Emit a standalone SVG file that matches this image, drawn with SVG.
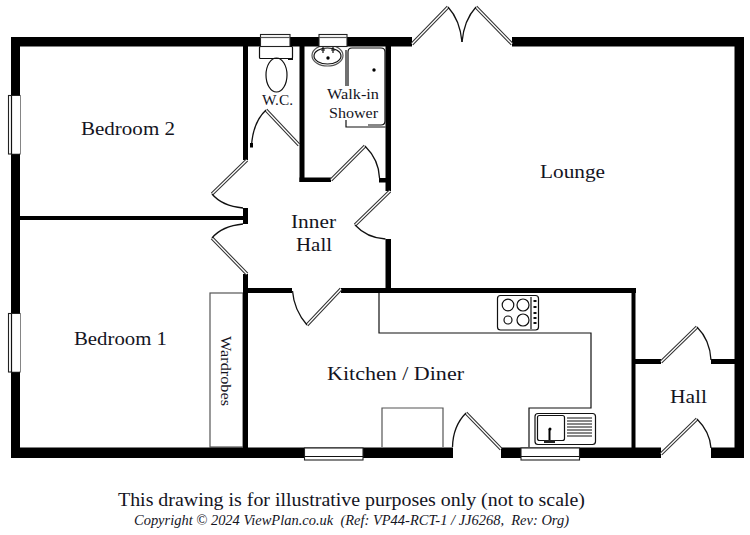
<svg xmlns="http://www.w3.org/2000/svg" width="750" height="535" viewBox="0 0 750 535">
<style>
.wall{fill:#000}
.thin{fill:none;stroke:#111;stroke-width:1.2}
.gray{fill:none;stroke:#555;stroke-width:1.2}
.win{fill:#fff;stroke:#222;stroke-width:1.1}
.leafo{stroke:#333;stroke-width:3.4;fill:none;stroke-linecap:butt}
.leafi{stroke:#fff;stroke-width:1.3;fill:none}
.swing{fill:none;stroke:#111;stroke-width:1.3}
text{font-family:"Liberation Serif","Times New Roman",serif;fill:#14141e}
.room{font-size:19px}
.small{font-size:15px}
</style>
<defs>
<g id="hobdot"><rect x="-1.5" y="-1" width="3" height="2" fill="#111"/></g>
</defs>
<rect width="750" height="535" fill="#fff"/>
<g id="fittings">
<rect class="gray" x="210" y="293" width="33" height="154"/>
<path class="thin" d="M379 293V333H591V408H529V447"/>
<path class="gray" d="M382 447V408H443V447"/>
<g id="hob">
<rect class="thin" x="497.500" y="295.500" width="41" height="34.500" rx="3"/>
<circle class="thin" cx="508" cy="305" r="5.800"/>
<circle class="thin" cx="523" cy="305" r="6"/>
<circle class="thin" cx="508" cy="320" r="4"/>
<circle class="thin" cx="523" cy="320" r="6"/>
<path class="thin" d="M531 297V329"/>
<use href="#hobdot" x="535" y="301"/><use href="#hobdot" x="535" y="307"/><use href="#hobdot" x="535" y="313"/><use href="#hobdot" x="535" y="318"/><use href="#hobdot" x="535" y="323"/>
</g>
<g id="sink">
<rect class="thin" x="535" y="413.500" width="60.500" height="31" rx="3"/>
<rect class="thin" x="537.500" y="415.500" width="27" height="25" rx="2"/>
<path class="thin" d="M567 418H592M567 421H592M567 424H592M567 427H592M567 430H592M567 433H592M567 436H592"/>
<path d="M549.500 429V441" stroke="#000" stroke-width="2"/>
<rect x="544" y="440" width="11" height="3" fill="#222"/>
<circle cx="550" cy="429" r="1.500" fill="#000"/>
</g>
<g id="toilet">
<rect class="thin" x="259.500" y="46.500" width="33" height="12" rx="1" fill="#fff"/>
<ellipse class="thin" cx="276.500" cy="75" rx="10.500" ry="17"/>
<rect x="288" y="58" width="5" height="2" fill="#111"/>
</g>
<g id="basin">
<ellipse class="gray" cx="327.500" cy="55.500" rx="15.500" ry="10.500"/>
<ellipse class="thin" cx="327.500" cy="56" rx="13.500" ry="8"/>
<circle cx="328" cy="58" r="1.700" fill="#000"/>
<path d="M323 47V53M333 47V53M321 50H325M331 50H335" stroke="#111" stroke-width="1.200"/>
</g>
<g id="shower">
<path class="thin" d="M348 86V52Q348 48 352 48H381Q385 48 385 52V121Q385 125 381 125H368"/>
<path class="thin" d="M346 86V50"/>
<path class="thin" d="M346 120V127H385.500"/>
<circle cx="374" cy="70" r="1.700" fill="#000"/>
</g>
</g>
<g id="walls">
<rect class="wall" x="11" y="37" width="401" height="9.500"/>
<rect class="wall" x="512" y="37" width="232" height="9.500"/>
<rect class="wall" x="11" y="37" width="9" height="421"/>
<rect class="wall" x="734.500" y="37" width="9.500" height="421"/>
<rect class="wall" x="11" y="447.500" width="442" height="10.500"/>
<rect class="wall" x="501" y="447.500" width="160" height="10.500"/>
<rect class="wall" x="711" y="447.500" width="33" height="10.500"/>
<rect class="wall" x="243" y="46" width="5" height="114"/>
<rect class="wall" x="243" y="208" width="5" height="16"/>
<rect class="wall" x="243" y="274" width="5" height="174"/>
<rect class="wall" x="20" y="216" width="224" height="4"/>
<rect class="wall" x="243" y="288" width="49" height="5"/>
<rect class="wall" x="341" y="288" width="295" height="5"/>
<rect class="wall" x="631.500" y="288" width="4" height="160"/>
<rect class="wall" x="635" y="359" width="26" height="5"/>
<rect class="wall" x="711" y="359" width="24" height="5"/>
<rect class="wall" x="299.500" y="46" width="5" height="136"/>
<rect class="wall" x="299.500" y="177.500" width="31.500" height="4.500"/>
<rect class="wall" x="385.500" y="46" width="5.500" height="145"/>
<rect class="wall" x="379" y="178" width="12" height="4.500"/>
<rect class="wall" x="385.500" y="239" width="5.500" height="50"/>
</g>
<g id="windows">
<rect class="win" x="8.500" y="95.500" width="11.500" height="58.500"/>
<rect x="12" y="96" width="8" height="57.500" fill="#fff"/><path class="thin" d="M11.500 95.500V154"/>
<rect class="win" x="8.500" y="313.500" width="11.500" height="58.500"/>
<rect x="12" y="314" width="8" height="57.500" fill="#fff"/><path class="thin" d="M11.500 313.500V372"/>
<rect class="win" x="304.500" y="448" width="58.500" height="12"/><path class="thin" d="M304.500 456.500H363"/>
<rect class="win" x="521" y="448" width="58.500" height="12"/><path class="thin" d="M521 456.500H579.500"/>
<rect class="win" x="260.500" y="34.500" width="29.500" height="12" stroke="#555"/><path class="gray" d="M260.500 37.500H290"/>
<rect class="win" x="319" y="34.500" width="28" height="12" stroke="#555"/><path class="gray" d="M319 37.500H347"/>
</g>
<g id="doors">
<path class="leafo" d="M299 145L266 110M247 160L212 194M247 274L212 238M331 180L365 146M390 191L355 225M341 289L307 325M412 44L448 7M512 44L476 7M501 449L466 413M661 362L697 327M661 454L697 419"/>
<path class="leafi" d="M299 145L266 110M247 160L212 194M247 274L212 238M331 180L365 146M390 191L355 225M341 289L307 325M412 44L448 7M512 44L476 7M501 449L466 413M661 362L697 327M661 454L697 419"/>
<path class="swing" d="M266 110Q253 122 251.500 146"/>
<path d="M250 143h3v4.500h-3z" fill="#000"/>
<path class="swing" d="M365 146Q379 160 379.500 178"/>
<path class="swing" d="M212 194Q222 206 243 208"/>
<path class="swing" d="M212 238Q222 226 243 224"/>
<path class="swing" d="M355 225Q367 238 385.500 239"/>
<path class="swing" d="M307 325Q294 310 292.500 291"/>
<path class="swing" d="M448 7Q460 20 462 42"/>
<path class="swing" d="M476 7Q464 20 462 42"/>
<path class="swing" d="M466 413Q453 426 452.500 447"/>
<path class="swing" d="M697 327Q710 340 711 360"/>
<path class="swing" d="M697 419Q710 432 711 448"/>
</g>
<g id="labels">
<text class="room" x="81" y="135" textLength="94" lengthAdjust="spacingAndGlyphs">Bedroom 2</text>
<text class="room" x="74" y="345" textLength="93" lengthAdjust="spacingAndGlyphs">Bedroom 1</text>
<text class="room" x="540" y="178" textLength="65" lengthAdjust="spacingAndGlyphs">Lounge</text>
<text class="room" x="291" y="228" textLength="45" lengthAdjust="spacingAndGlyphs">Inner</text>
<text class="room" x="296" y="251" textLength="36" lengthAdjust="spacingAndGlyphs">Hall</text>
<text class="room" x="327" y="380" textLength="137" lengthAdjust="spacingAndGlyphs">Kitchen / Diner</text>
<text class="room" x="670" y="403" textLength="37" lengthAdjust="spacingAndGlyphs">Hall</text>
<text class="small" x="262" y="105" textLength="31" lengthAdjust="spacingAndGlyphs">W.C.</text>
<text class="small" x="327" y="99" textLength="52" lengthAdjust="spacingAndGlyphs">Walk-in</text>
<text class="small" x="329" y="118" textLength="49" lengthAdjust="spacingAndGlyphs">Shower</text>
<text class="small" transform="translate(220.500 336) rotate(90)" textLength="70" lengthAdjust="spacingAndGlyphs">Wardrobes</text>
<text x="118" y="506" font-size="18" textLength="467" lengthAdjust="spacingAndGlyphs">This drawing is for illustrative purposes only (not to scale)</text>
<text x="134" y="525" font-size="14.500" font-style="italic" textLength="435" lengthAdjust="spacingAndGlyphs" xml:space="preserve">Copyright © 2024 ViewPlan.co.uk  (Ref: VP44-RCT-1 / JJ6268,  Rev: Org)</text>
</g>
</svg>
